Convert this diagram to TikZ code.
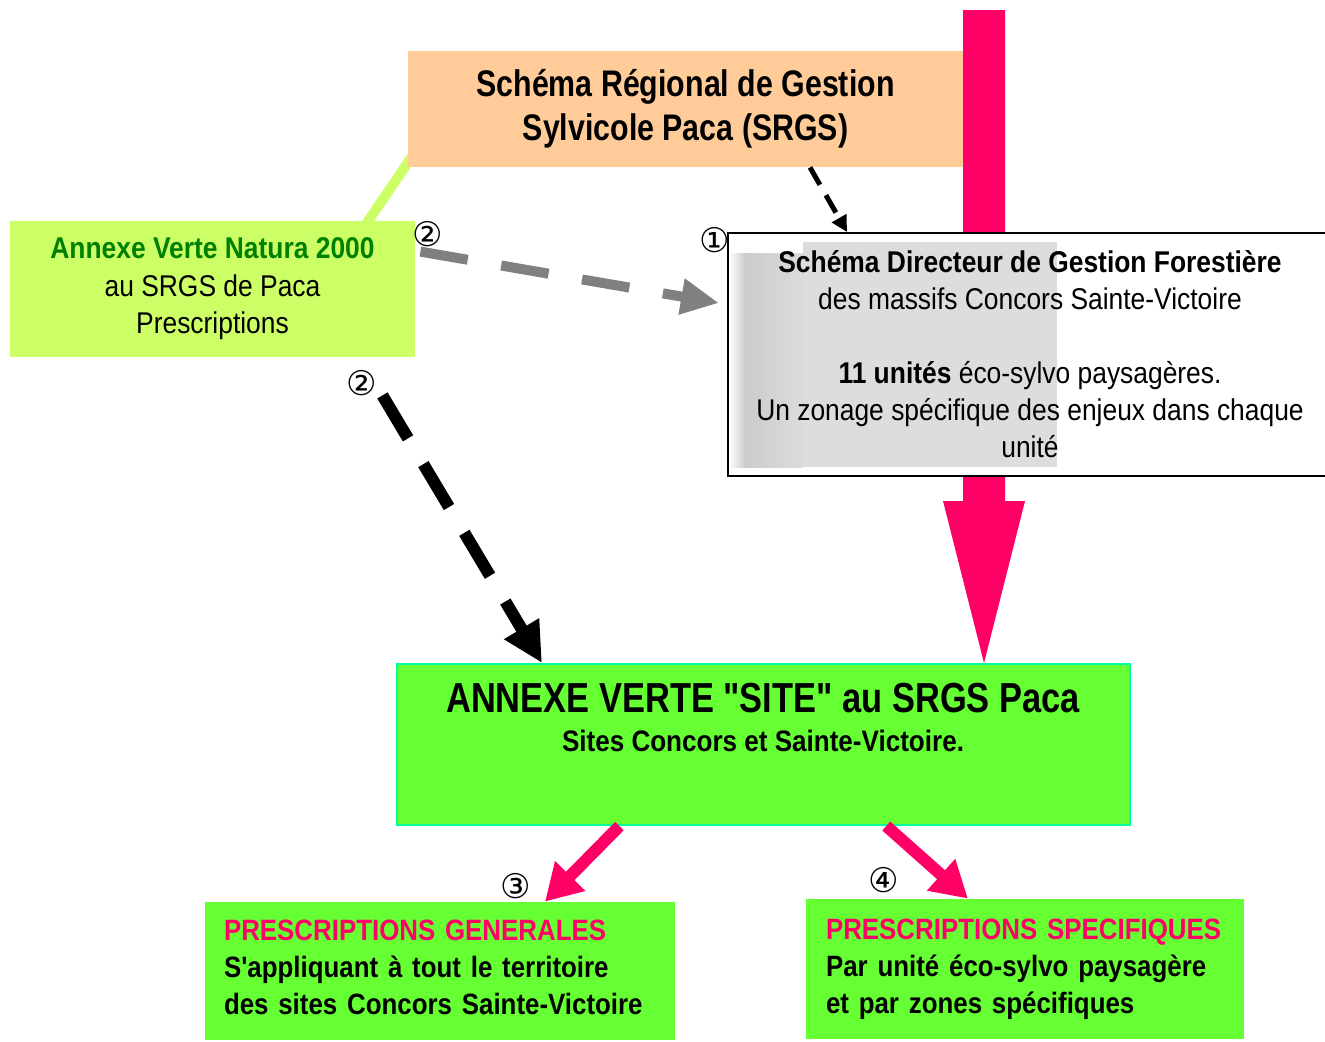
\documentclass[tikz,border=0pt]{standalone}
\usepackage{fontspec}
\setmainfont{Liberation Sans}[FakeStretch=0.82, Ligatures=TeXOff]
\newfontfamily\widefont{Liberation Sans}[FakeStretch=0.88, Ligatures=TeXOff]
\newfontfamily\circfont{DejaVu Sans}
\usepackage{tikz}
\usetikzlibrary{calc, positioning, arrows.meta}
\definecolor{rose}{HTML}{FF0066}
\definecolor{peche}{HTML}{FFCC99}
\definecolor{vertclair}{HTML}{CCFF66}
\definecolor{vertvif}{HTML}{66FF33}
\definecolor{vertfonce}{HTML}{008000}
\definecolor{turquoise}{HTML}{00FF99}
\definecolor{ombre}{HTML}{DDDDDD}
\tikzstyle{box}=[inner sep=0pt, shape=rectangle, align=center]
\tikzstyle{pres}=[box, fill=vertvif, align=left, font=\widefont\bfseries\fontsize{14.7}{18.5}\selectfont]
\tikzstyle{num}=[inner sep=0pt, font=\circfont\fontsize{17}{17}\selectfont]
\tikzset{>=stealth}

\begin{document}
\begin{tikzpicture}[x=0.5pt, y=-0.5pt]
\clip (0,0) rectangle (1325,1041);
\coordinate (lg0) at (413,155);
\coordinate (lg1) at (362,230);
\coordinate (pk) at (984,10);
\draw[vertclair, line width=5pt] (lg0) -- (lg1);
%
\node[box, fill=vertvif, draw=turquoise, line width=1pt, minimum width=366.5pt, minimum height=80.5pt] (site) at (763.5,744.5) {};
\node[font=\bfseries\fontsize{21}{25}\selectfont] (site1) at (763,698) {ANNEXE VERTE "SITE" au SRGS Paca};
\node[font=\widefont\bfseries\fontsize{14.8}{18}\selectfont] (site2) at (763,741) {Sites Concors et Sainte-Victoire.};
\coordinate (pktip) at (site.north -| pk);
\fill[rose] ($(pk)+(-21,0)$) -- ($(pk)+(21,0)$) -- ($(pktip)+(21,-162)$) -- ($(pktip)+(41,-162)$) -- (pktip) -- ($(pktip)+(-41,-162)$) -- ($(pktip)+(-21,-162)$) -- cycle;
%
\node[box, fill=peche, minimum width=277.5pt, minimum height=58pt, font=\bfseries\fontsize{18.5}{22}\selectfont] (srgs) at (685.5,109) {Schéma Régional de Gestion\\Sylvicole Paca (SRGS)};
\node[box, fill=vertclair, minimum width=202.5pt, minimum height=68pt, font=\widefont\fontsize{15}{18.75}\selectfont] (av) at (212.5,289) {\textcolor{vertfonce}{\bfseries Annexe Verte Natura 2000}\\au SRGS de Paca\\Prescriptions};
\node[box, draw, fill=white, line width=1pt, minimum width=306pt, minimum height=121.5pt] (dir) at (1034,354.5) {};
\shade[left color=white, right color=gray!40] (729,253) rectangle (745,467);
\shade[left color=gray!40, right color=gray!28] (745,253) rectangle (803,467);
\fill[ombre] (803,242) rectangle (1057,467);
\node[font=\widefont\fontsize{15}{18.5}\selectfont, align=center] (dirtxt) at (1030,354.5) {{\bfseries Schéma Directeur de Gestion Forestière}\\des massifs Concors Sainte-Victoire\\[18.5pt]{\bfseries 11 unités} éco-sylvo paysagères.\\Un zonage spécifique des enjeux dans chaque\\unité};
%
\node[pres, minimum width=235pt, minimum height=69pt, text width=216pt] (gen) at (440,971) {\textcolor{rose}{PRESCRIPTIONS GENERALES}\\S'appliquant à tout le territoire\\des sites Concors Sainte-Victoire\par\vspace{4pt}\nointerlineskip\hbox{}};
\node[pres, minimum width=219pt, minimum height=70pt, text width=199pt] (spec) at (1025,969) {\textcolor{rose}{PRESCRIPTIONS SPECIFIQUES}\\Par unité éco-sylvo paysagère\\et par zones spécifiques};
%
\draw[gray, line width=5pt, dash pattern=on 24pt off 17pt, -{Triangle[length=19pt, width=17pt]}] ($(av.north east)+(5,31)$) -- ($(dir.north west)+(-8,71)$);
\draw[black, line width=2.5pt, dash pattern=on 10pt off 6pt, -{Triangle[length=8pt, width=8pt]}] ($(srgs.south west)!0.724!(srgs.south east)$) -- ($(dir.north west)+(120,0)$);
\draw[black, line width=6pt, dash pattern=on 25pt off 15pt, -{Triangle[length=20pt, width=19pt]}] ($(av.south east)+(-33,38)$) -- ($(site.north west)+(146,0)$);
\draw[rose, line width=6pt, -{Triangle[length=18pt, width=20pt]}] ($(site.south west)!0.304!(site.south east)$) -- ($(gen.north west)!0.723!(gen.north east)$);
\draw[rose, line width=6pt, -{Triangle[length=18pt, width=20pt]}] ($(site.south west)!0.667!(site.south east)$) -- ($(spec.north west)!0.37!(spec.north east)$);
%
\node[num] (n2a) at (428,234) {②};
\node[num] (n1) at (715,240) {①};
\node[num] (n2b) at (362,383) {②};
\node[num] (n3) at (516,886) {③};
\node[num] (n4) at (884,880) {④};
\end{tikzpicture}
\end{document}
